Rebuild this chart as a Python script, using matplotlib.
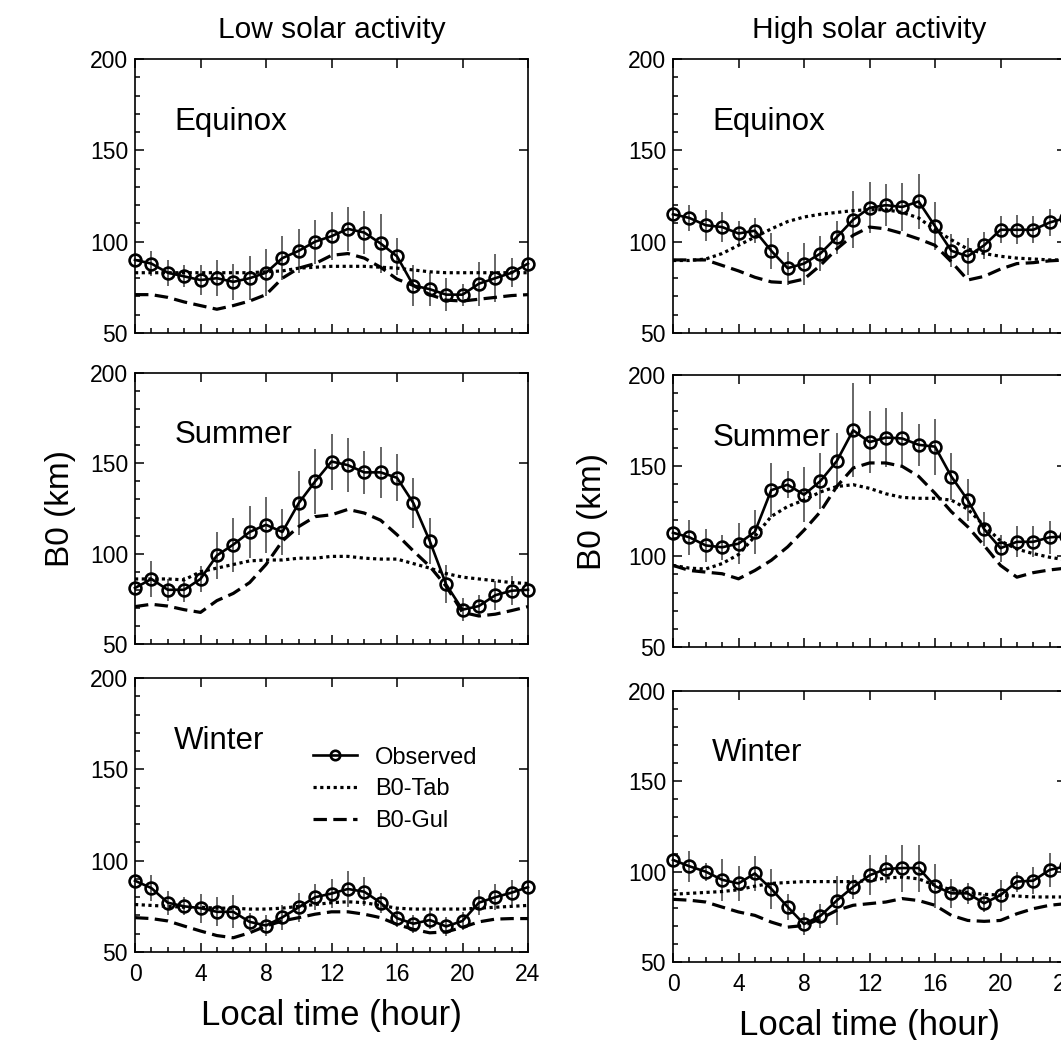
import matplotlib
matplotlib.use("Agg")
import matplotlib.pyplot as plt
from matplotlib.ticker import MultipleLocator

plt.rcParams['font.family'] = ['Liberation Sans', 'DejaVu Sans']

hours = list(range(25))

# Low solar activity
low_eq_obs = [90, 88, 83, 81, 79, 80, 78, 80, 83, 91, 95, 100, 103, 107, 105, 99, 92, 76, 74, 71, 71, 77, 80, 83, 88]
low_eq_err = [0, 7, 7, 6, 8, 10, 10, 12, 13, 12, 12, 12, 13, 12, 12, 16, 10, 11, 9, 9, 6, 12, 13, 8, 0]
low_eq_tab = [83, 83, 83, 83, 83, 83, 83, 83, 83.5, 84, 85.5, 86, 86.5, 86.5, 86.5, 86, 85.5, 84.5, 83.5, 83, 83, 83, 83, 83, 83]
low_eq_gul = [71, 71, 69.5, 67, 65, 63, 65, 67.5, 71, 80, 85.5, 88, 92.5, 93.5, 91, 86, 79.5, 76, 71, 68, 67.5, 68.5, 69.5, 70.5, 71]

low_su_obs = [81, 86, 80, 80, 86, 99, 105, 112, 116, 112, 128, 140, 151, 149, 145, 145, 142, 128, 107, 83, 69, 71, 77, 79.5, 80]
low_su_err = [0, 10, 6, 7, 7, 13, 15, 14.5, 15.5, 13, 17.5, 18, 15.5, 15, 12, 14, 13, 14, 12.5, 10.5, 6.5, 6, 8, 8, 0]
low_su_tab = [86, 86, 86, 85.5, 90, 92, 94, 96, 96.5, 96.5, 97.5, 97.5, 98.5, 98.5, 97.5, 97, 97, 94.5, 92, 89, 87, 86, 85, 84, 83.5]
low_su_gul = [70.7, 72, 71, 69, 67.5, 74, 78, 84, 94, 107, 115, 120.5, 121.5, 124.5, 122.5, 118.5, 110.5, 101.5, 93, 82, 67.5, 65.5, 66.5, 68.5, 70.7]

low_wi_obs = [89, 85, 77, 75, 74, 72, 72, 66.5, 64.5, 69, 74.5, 80, 82, 84.5, 83, 77, 68.5, 65.5, 67.5, 64, 67, 77, 80, 82.5, 85.5]
low_wi_err = [0, 7, 6.5, 5, 8, 8, 9, 5, 5.5, 7, 8, 7, 8, 10, 8, 5.5, 5, 5, 5, 5, 5, 7, 7, 7, 0]
low_wi_tab = [76, 75.5, 75, 74.5, 74.5, 74, 74, 73.5, 73.5, 74, 75, 76, 77, 77.5, 77, 75.5, 74, 73.5, 73.5, 73.5, 73.5, 74, 74.5, 75, 75.5]
low_wi_gul = [68.8, 68.3, 67, 64.2, 61.5, 59, 57.8, 60.5, 64.2, 67, 68.8, 70.7, 72, 72, 70.7, 68.8, 65.1, 62.4, 60.5, 61, 63.5, 66.5, 68, 68.3, 68.3]

# High solar activity
high_eq_obs = [115, 113, 109, 108, 104.5, 106, 95, 85.5, 88, 93.5, 102.5, 112, 118.5, 120, 119, 122, 108.5, 95, 92, 98, 106.5, 106.5, 106.5, 110.5, 113]
high_eq_err = [0, 7, 8.5, 8, 7, 7, 10, 9, 11.5, 9.5, 9, 15.5, 14, 11.5, 13, 15, 13, 9, 10, 7.5, 7.5, 8, 7.5, 7.5, 7]
high_eq_tab = [89.7, 89.7, 90.5, 93.5, 98, 102.5, 107, 111, 113.5, 115, 116, 117, 117.5, 117.5, 116, 113, 106.5, 101, 96, 93.5, 92, 91, 90.5, 90, 90]
high_eq_gul = [90, 90, 90, 87, 84, 80.5, 78, 77.5, 79.5, 87, 96, 103.5, 108, 107, 104.5, 101.5, 98, 89, 79, 81, 85, 88, 88.5, 89.5, 90]

high_su_obs = [113, 110.5, 106, 105, 107, 113.5, 136.5, 139.5, 134, 141.5, 152.5, 169.5, 163, 165.5, 165, 161.5, 160.5, 144, 131, 115, 104.5, 108, 108, 110.5, 111]
high_su_err = [0, 9.5, 9, 7, 11.5, 12, 15, 7.5, 15, 15.5, 15.5, 26, 17, 16.5, 14.5, 11.5, 15.5, 13, 11.5, 9.5, 7.5, 8.5, 8.5, 9, 8]
high_su_tab = [95, 93.5, 93, 96, 101, 111, 122, 127.5, 131, 135.5, 138.5, 139.5, 137.5, 134.5, 132.5, 132, 132, 131, 126, 117, 108.5, 104, 101.5, 99.5, 98]
high_su_gul = [95, 92.2, 91.3, 90.4, 87.6, 92.2, 97.8, 105.2, 114.4, 124.6, 138.5, 148.7, 151.5, 151.5, 149.6, 144.1, 134.8, 124.6, 116.3, 106, 95, 88.5, 91, 92.5, 93.5]

high_wi_obs = [106.5, 103, 100, 95.5, 93.5, 99, 90.5, 80.5, 71, 75.5, 84, 91.5, 98, 101.5, 102, 102, 92, 88, 88, 82.5, 87, 94.5, 95, 101, 103]
high_wi_err = [0, 8.5, 5, 11.5, 9.5, 9.5, 11, 7, 6, 6.5, 13.5, 6.5, 11, 7.5, 13, 13, 12, 8, 6, 5, 8.5, 5.5, 7.5, 9.5, 8]
high_wi_tab = [87.5, 88, 88.5, 89, 90, 92, 93.5, 94, 94.5, 94.5, 94.5, 94.5, 95, 96.5, 97, 96, 92.5, 90, 88.5, 87.5, 87, 86.5, 86, 86, 86]
high_wi_gul = [84.7, 84.2, 83.2, 80.4, 77.7, 75.8, 72.1, 69.3, 70.2, 73.9, 78.6, 81.4, 82.3, 83.2, 85.1, 84, 81.4, 75.8, 73, 72.5, 73, 76.7, 79.5, 81.4, 82.3]

seasons = ["Equinox", "Summer", "Winter"]
columns = ["Low solar activity", "High solar activity"]
x_ticks = [0, 4, 8, 12, 16, 20, 24]
y_ticks = [50, 100, 150, 200]

panels = [
    [(low_eq_obs, low_eq_err, low_eq_tab, low_eq_gul),
     (low_su_obs, low_su_err, low_su_tab, low_su_gul),
     (low_wi_obs, low_wi_err, low_wi_tab, low_wi_gul)],
    [(high_eq_obs, high_eq_err, high_eq_tab, high_eq_gul),
     (high_su_obs, high_su_err, high_su_tab, high_su_gul),
     (high_wi_obs, high_wi_err, high_wi_tab, high_wi_gul)],
]

W, H = 1061, 1040
fig = plt.figure(figsize=(W / 100, H / 100), dpi=100)

# pixel boxes (left, top, right, bottom) for each column / row
col_x = [(135, 528), (673, 1066)]
row_y = [[(59, 333), (373, 644), (678, 952)],
         [(59, 333), (375, 647), (691, 962)]]
ylabel_x = [-0.15, -0.165]

for c in range(2):
    x0, x1 = col_x[c]
    for r in range(3):
        y0, y1 = row_y[c][r]
        ax = fig.add_axes([x0 / W, 1 - y1 / H, (x1 - x0) / W, (y1 - y0) / H])
        obs, err, tab, gul = panels[c][r]

        ax.vlines(hours, [o - e for o, e in zip(obs, err)], [o + e for o, e in zip(obs, err)],
                  color='0.3', lw=1.2, zorder=2)
        ax.plot(hours, tab, color='black', lw=2.3, linestyle=(0, (1, 1.1)), zorder=3,
                label='B0-Tab')
        ax.plot(hours, gul, color='black', lw=2.3, linestyle=(0, (4.2, 2.0)), zorder=3,
                label='B0-Gul')
        ax.plot(hours, obs, color='black', lw=1.9, marker='o', ms=8.5, mfc='none',
                mec='black', mew=1.9, zorder=4, clip_on=False, label='Observed')

        ax.set_xlim(0, 24)
        ax.set_ylim(50, 200)
        ax.set_xticks(x_ticks)
        ax.set_yticks(y_ticks)
        ax.xaxis.set_minor_locator(MultipleLocator(1))
        ax.yaxis.set_minor_locator(MultipleLocator(10))
        ax.tick_params(which='both', direction='in', width=1.1, labelsize=16.5)
        ax.tick_params(axis='y', pad=5)
        ax.tick_params(axis='x', pad=8)
        ax.tick_params(which='major', length=6.5, top=True, right=True)
        ax.tick_params(which='minor', length=3.5, top=False, right=False)
        for s in ax.spines.values():
            s.set_linewidth(1.2)
        if r < 2:
            ax.tick_params(labelbottom=False)
        else:
            ax.set_xlabel("Local time (hour)", fontsize=25, labelpad=9)
        if r == 0:
            ax.set_title(columns[c], fontsize=21.5, pad=15)
        if r == 1:
            ax.set_ylabel("B0 (km)", fontsize=24)
            ax.yaxis.set_label_coords(ylabel_x[c], 0.5)

        ax.text(0.1, 0.74, seasons[r], transform=ax.transAxes, fontsize=22.5,
                ha='left', va='baseline')

        if c == 0 and r == 2:
            h, l = ax.get_legend_handles_labels()
            order = [2, 0, 1]
            ax.legend([h[i] for i in order], [l[i] for i in order],
                      loc='upper left', bbox_to_anchor=(0.452, 0.75), frameon=False,
                      fontsize=17, borderpad=0, borderaxespad=0, handlelength=1.9,
                      handletextpad=0.75, labelspacing=0.42, markerscale=0.8)

fig.savefig("out.png", dpi=100)
